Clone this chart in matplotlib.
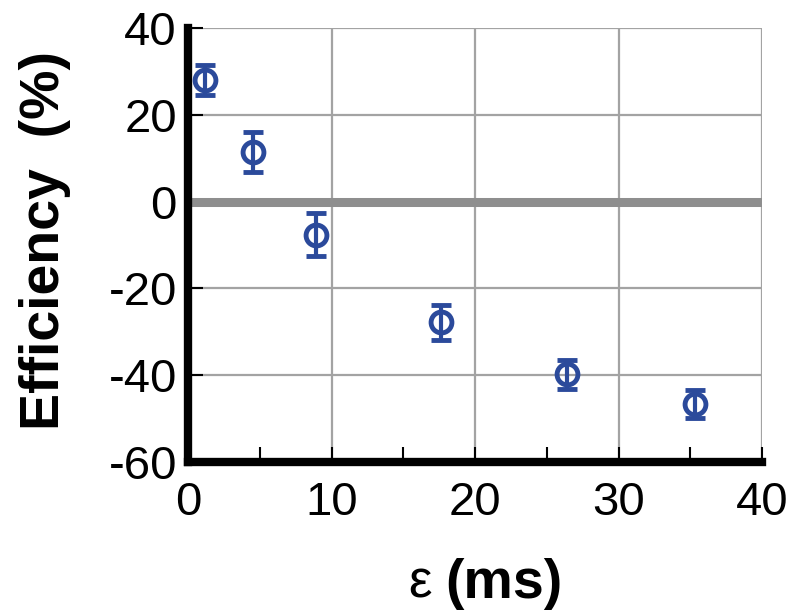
import matplotlib
matplotlib.use("Agg")
import matplotlib.pyplot as plt
from matplotlib.ticker import MultipleLocator

plt.rcParams['font.family'] = ['Liberation Sans', 'DejaVu Sans']
plt.rcParams['axes.unicode_minus'] = False

eps_ms = [1.2, 4.5, 8.9, 17.6, 26.4, 35.3]
efficiency = [28.0, 11.4, -7.6, -27.8, -39.8, -46.6]
err = [3.5, 4.6, 5.0, 4.0, 3.3, 3.2]
xticks = [0, 10, 20, 30, 40]
yticks = [40, 20, 0, -20, -40, -60]

blue = '#2b4a9b'

fig = plt.figure(figsize=(7.88, 6.13), dpi=100)
ax = fig.add_axes([188/788, 1-462/613, (762-188)/788, (462-28)/613])

ax.set_xlim(0, 40)
ax.set_ylim(-60, 40)
ax.set_xticks(xticks)
ax.set_yticks(yticks)
ax.xaxis.set_minor_locator(MultipleLocator(5))
ax.grid(True, which='major', color='#a3a3a3', linewidth=1.6, zorder=0)
ax.set_axisbelow(True)
ax.axhline(0, color='#8e8e8e', linewidth=6.5, zorder=1)

ax.errorbar(eps_ms, efficiency, yerr=err, fmt='o', color=blue,
            markerfacecolor='none', markeredgecolor=blue, markersize=15,
            markeredgewidth=3.5, elinewidth=3, capsize=7, capthick=4.5, zorder=5,
            clip_on=False)

for s in ['top', 'right']:
    ax.spines[s].set_visible(False)
for s in ['left', 'bottom']:
    ax.spines[s].set_linewidth(6)
    ax.spines[s].set_color('black')

ax.tick_params(axis='both', which='both', direction='in', labelsize=34, width=1.5, color='black')
ax.tick_params(axis='x', which='major', length=11, pad=14)
ax.tick_params(axis='x', which='minor', length=11)
ax.tick_params(axis='y', which='major', length=11, pad=8)

# y label
fig.text(45/788, 1-241/613, 'Efficiency  (%)', fontsize=40, fontweight='bold',
         rotation=90, ha='center', va='center')

# x label: upright regular epsilon followed by bold "(ms)"
fig.text(420/788, 1-598/613, '\u03b5', fontsize=38, fontweight='normal',
         ha='center', va='baseline')
fig.text(445/788, 1-598/613, '(ms)', fontsize=40, fontweight='bold',
         ha='left', va='baseline')

fig.savefig('out.png', dpi=100)
